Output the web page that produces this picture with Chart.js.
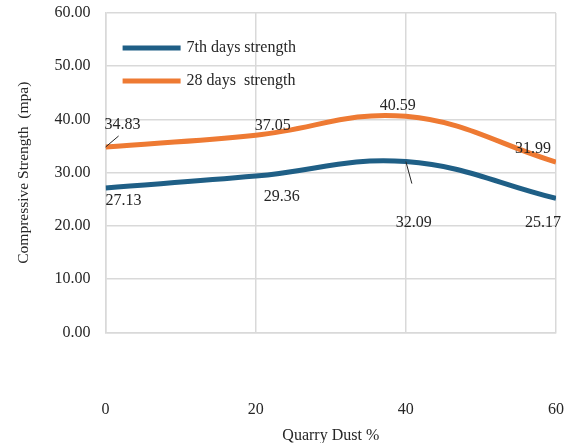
<!DOCTYPE html>
<html>
<head>
<meta charset="utf-8">
<script src="https://cdn.jsdelivr.net/npm/chart.js@4.4.1/dist/chart.umd.min.js"></script>
<style>
  html, body { margin: 0; padding: 0; background: #ffffff; }
  #wrap { width: 573px; height: 443px; }
</style>
</head>
<body>
<div id="wrap"><canvas id="c" width="573" height="443"></canvas></div>
<script>
// ---- data ----
const quarryDust = [0, 20, 40, 60];
const strength7 = [27.13, 29.36, 32.09, 25.17];
const strength28 = [34.83, 37.05, 40.59, 31.99];
const seriesNames = ['7th days strength', '28 days  strength'];
const yTickValues = [0, 10, 20, 30, 40, 50, 60];
const xTickValues = [0, 20, 40, 60];
const xTitle = 'Quarry Dust %';
const yTitle = 'Compressive Strength  (mpa)';

// ---- styles ----
const FONT = "'Liberation Serif', 'Times New Roman', serif";
const colors = ['#1F5F86', '#EE7A33'];
// label offsets relative to the point (style only)
const labelOffsets = [
  [{dx: 18, dy: 13}, {dx: 26, dy: 21}, {dx: 8, dy: 61, lead: {dx: 6, dy: 22}}, {dx: -13, dy: 24}],
  [{dx: 17, dy: -22, lead: {dx: 13, dy: -11}}, {dx: 17, dy: -9}, {dx: -8, dy: -11}, {dx: -23, dy: -13}]
];

const seriesValues = [strength7, strength28];
const datasets = seriesValues.map((vals, i) => ({
  label: seriesNames[i],
  data: quarryDust.map((x, j) => ({x: x, y: vals[j]})),
  borderColor: colors[i],
  backgroundColor: colors[i],
  borderWidth: 5,
  pointRadius: 0,
  tension: 0.4,
  fill: false
}));

const labelPlugin = {
  id: 'labels',
  afterDatasetsDraw(chart) {
    const ctx = chart.ctx;
    ctx.save();
    ctx.font = '16px ' + FONT;
    ctx.fillStyle = '#262626';
    ctx.textAlign = 'center';
    ctx.textBaseline = 'middle';
    chart.data.datasets.forEach((ds, i) => {
      const meta = chart.getDatasetMeta(i);
      meta.data.forEach((pt, j) => {
        const off = labelOffsets[i][j];
        if (off.lead) {
          ctx.strokeStyle = '#262626';
          ctx.lineWidth = 1;
          ctx.beginPath();
          ctx.moveTo(pt.x, pt.y);
          ctx.lineTo(pt.x + off.lead.dx, pt.y + off.lead.dy);
          ctx.stroke();
        }
        ctx.fillText(seriesValues[i][j].toFixed(2), pt.x + off.dx, pt.y + off.dy);
      });
    });
    ctx.restore();
  }
};

const legendPlugin = {
  id: 'innerLegend',
  afterDraw(chart) {
    const ctx = chart.ctx;
    const a = chart.chartArea;
    ctx.save();
    ctx.font = '16px ' + FONT;
    ctx.textAlign = 'left';
    ctx.textBaseline = 'middle';
    chart.data.datasets.forEach((ds, i) => {
      const y = a.top + 35 + i * 33;
      ctx.strokeStyle = ds.borderColor;
      ctx.lineWidth = 5;
      ctx.beginPath();
      ctx.moveTo(a.left + 17, y);
      ctx.lineTo(a.left + 75, y);
      ctx.stroke();
      ctx.fillStyle = '#262626';
      ctx.fillText(ds.label, a.left + 81, y);
    });
    ctx.restore();
  }
};

new Chart(document.getElementById('c'), {
  type: 'line',
  data: { datasets: datasets },
  options: {
    responsive: false,
    animation: false,
    layout: { padding: { top: 13, right: 17, bottom: 0, left: 7 } },
    plugins: { legend: { display: false }, tooltip: { enabled: false } },
    scales: {
      x: {
        type: 'linear',
        min: 0, max: 60,
        afterBuildTicks(scale) { scale.ticks = xTickValues.map(v => ({value: v})); },
        grid: { color: '#D9D9D9', lineWidth: 1.5, drawTicks: true, tickLength: 68, tickColor: 'rgba(0,0,0,0)' },
        border: { color: '#D9D9D9', width: 1.5 },
        ticks: { padding: 0, color: '#262626', font: { family: FONT, size: 16 } },
        title: { display: true, text: xTitle, color: '#262626',
                 font: { family: FONT, size: 16, lineHeight: 0.9 },
                 padding: { top: 9, bottom: 0 } }
      },
      y: {
        min: 0, max: 60,
        afterBuildTicks(scale) { scale.ticks = yTickValues.map(v => ({value: v})); },
        grid: { color: '#D9D9D9', lineWidth: 1.5, drawTicks: true, tickLength: 15, tickColor: 'rgba(0,0,0,0)' },
        border: { color: '#D9D9D9', width: 1.5 },
        ticks: { padding: 0, color: '#262626', font: { family: FONT, size: 16 },
                 callback: v => Number(v).toFixed(2) },
        title: { display: true, text: yTitle, color: '#262626',
                 font: { family: FONT, size: 15.5 },
                 padding: { top: 8, bottom: 21 } }
      }
    }
  },
  plugins: [labelPlugin, legendPlugin]
});
</script>
</body>
</html>
